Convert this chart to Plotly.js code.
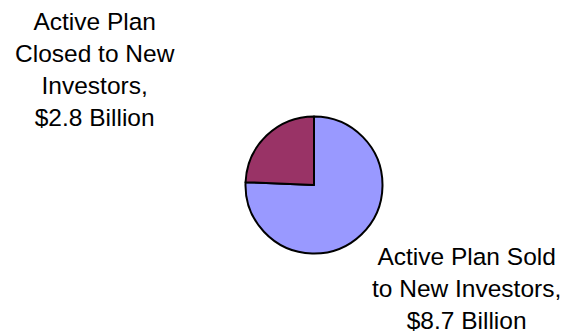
<!DOCTYPE html>
<html>
<head>
<meta charset="utf-8">
<script src="https://cdn.plot.ly/plotly-3.0.1.min.js"></script>
<style>html,body{margin:0;padding:0;background:#fff;}#chart{width:564px;height:332px;}</style>
</head>
<body>
<div id="chart"></div>
<script>
const categories = ["Active Plan Sold to New Investors", "Active Plan Closed to New Investors"];
const labels = ["Active Plan Sold<br>to New Investors,<br>$8.7 Billion", "Active Plan<br>Closed to New<br>Investors,<br>$2.8 Billion"];
const values = [8.7, 2.8];
const colors = ["#9999FF", "#993366"];

const W = 564, H = 332;
const cx = 314, cy = 185, r = 68.5;

const data = [{
  type: "pie",
  values: values,
  labels: categories,
  marker: {colors: colors, line: {color: "#000000", width: 2}},
  sort: false,
  direction: "clockwise",
  rotation: 0,
  textinfo: "none",
  hoverinfo: "none",
  showlegend: false,
  domain: {x: [(cx - r) / W, (cx + r) / W], y: [(H - cy - r) / H, (H - cy + r) / H]}
}];

const layout = {
  width: W, height: H,
  margin: {l: 0, r: 0, t: 0, b: 0},
  paper_bgcolor: "#ffffff",
  font: {family: "Liberation Sans, Arial, sans-serif", size: 24.5, color: "#000000"},
  annotations: [
    {text: labels[1], xref: "paper", yref: "paper", x: 95 / W, y: 1 - 69 / H, xanchor: "center", yanchor: "middle", showarrow: false, align: "center"},
    {text: labels[0], xref: "paper", yref: "paper", x: 466 / W, y: 1 - 288 / H, xanchor: "center", yanchor: "middle", showarrow: false, align: "center"}
  ]
};

Plotly.newPlot("chart", data, layout, {staticPlot: true, displayModeBar: false});
</script>
</body>
</html>
